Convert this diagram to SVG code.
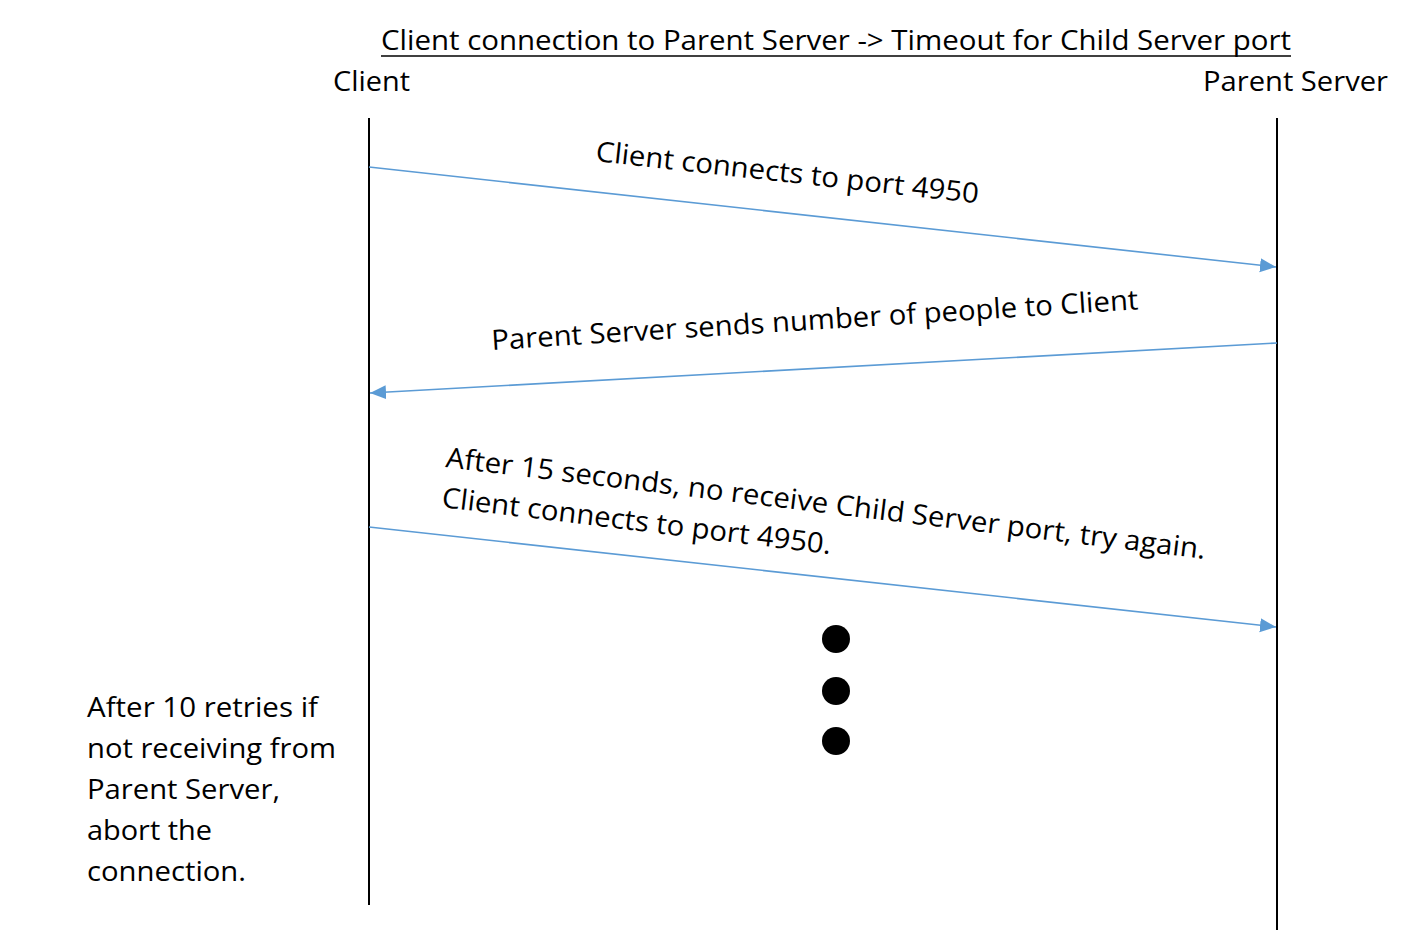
<svg xmlns="http://www.w3.org/2000/svg" width="1424" height="952" viewBox="0 0 1424 952">
<style>
.t{font-family:"Open Sans","Noto Sans","Liberation Sans",sans-serif;font-size:28px;fill:#000}
.life{stroke:#000;stroke-width:2;fill:none}
.msg{stroke:#5B9BD5;stroke-width:1.6;fill:none;marker-end:url(#ah)}
</style>
<defs>
<marker id="ah" markerUnits="userSpaceOnUse" markerWidth="18" markerHeight="16" refX="16" refY="8" orient="auto">
<path d="M0,1 L16,8 L0,15 Z" fill="#5B9BD5"/>
</marker>
</defs>
<rect width="1424" height="952" fill="#fff"/>
<g id="title">
<text class="t" x="381" y="50" textLength="910" lengthAdjust="spacingAndGlyphs">Client connection to Parent Server -&gt; Timeout for Child Server port</text>
<line x1="381" y1="56" x2="1291" y2="56" stroke="#000" stroke-width="1.6"/>
</g>
<g id="client">
<text class="t" x="333" y="91" textLength="77" lengthAdjust="spacingAndGlyphs">Client</text>
<line class="life" x1="369" y1="118" x2="369" y2="905"/>
</g>
<g id="server">
<text class="t" x="1203" y="91" textLength="185" lengthAdjust="spacingAndGlyphs">Parent Server</text>
<line class="life" x1="1277" y1="118" x2="1277" y2="930"/>
</g>
<g id="connectors">
<line class="msg" x1="369" y1="167" x2="1276" y2="267"/>
<line class="msg" x1="1277" y1="343" x2="370" y2="393"/>
<line class="msg" x1="369" y1="527" x2="1276" y2="627"/>
</g>
<g id="labels">
<text class="t" transform="translate(595,161) rotate(6.3)" textLength="385" lengthAdjust="spacingAndGlyphs">Client connects to port 4950</text>
<text class="t" transform="translate(492,350) rotate(-3.6)" textLength="648" lengthAdjust="spacingAndGlyphs">Parent Server sends number of people to Client</text>
<text class="t" transform="translate(445,467) rotate(6.9)" textLength="765" lengthAdjust="spacingAndGlyphs">After 15 seconds, no receive Child Server port, try again.</text>
<text class="t" transform="translate(441,507) rotate(6.9)" textLength="392" lengthAdjust="spacingAndGlyphs">Client connects to port 4950.</text>
</g>
<g id="ellipsis">
<circle cx="836" cy="639" r="14" fill="#000"/>
<circle cx="836" cy="691" r="14" fill="#000"/>
<circle cx="836" cy="741" r="14" fill="#000"/>
</g>
<g id="note">
<text class="t" x="87" y="717" textLength="231" lengthAdjust="spacingAndGlyphs">After 10 retries if</text>
<text class="t" x="87" y="758" textLength="249" lengthAdjust="spacingAndGlyphs">not receiving from</text>
<text class="t" x="87" y="799" textLength="193" lengthAdjust="spacingAndGlyphs">Parent Server,</text>
<text class="t" x="87" y="840" textLength="125" lengthAdjust="spacingAndGlyphs">abort the</text>
<text class="t" x="87" y="881" textLength="159" lengthAdjust="spacingAndGlyphs">connection.</text>
</g>
</svg>
